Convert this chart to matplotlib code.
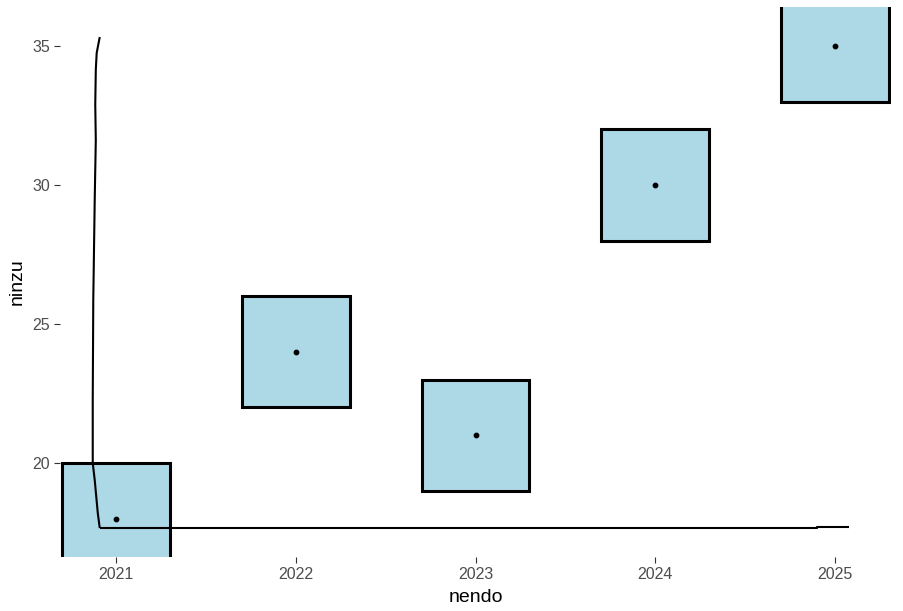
import matplotlib

matplotlib.use("Agg")
import matplotlib.pyplot as plt  # noqa: E402
from matplotlib.patches import Rectangle  # noqa: E402

# data
nendo = [2021, 2022, 2023, 2024, 2025]
ninzu = [18, 24, 21, 30, 35]
box_w = 0.6
box_h = 4.0

# hand-drawn axis lines (xkcd style)
yaxis_x = [2020.911, 2020.894, 2020.889, 2020.886, 2020.889, 2020.883,
           2020.875, 2020.872, 2020.872, 2020.883, 2020.900, 2020.911]
yaxis_y = [35.32, 34.75, 34.14, 32.88, 31.62, 29.46,
           25.86, 22.27, 20.00, 19.39, 18.20, 17.66]
xaxis_x = [2020.911, 2024.90, 2024.90, 2025.078]
xaxis_y = [17.66, 17.66, 17.70, 17.70]

xlim = (2020.69, 2025.31)
ylim = (16.62, 36.40)

plt.rcParams["font.family"] = ["Liberation Sans", "DejaVu Sans"]

fig = plt.figure(figsize=(9.04, 6.11), dpi=100)
ax = fig.add_axes([60 / 904, 1 - 557 / 611, 831 / 904, 550 / 611])

for x, y in zip(nendo, ninzu):
    ax.add_patch(Rectangle((x - box_w / 2, y - box_h / 2), box_w, box_h,
                           facecolor="#ADD8E6", edgecolor="black",
                           linewidth=2.2, zorder=2))
ax.scatter(nendo, ninzu, s=10, color="black", zorder=4)

ax.plot(yaxis_x, yaxis_y, color="black", lw=1.5, zorder=3,
        solid_capstyle="butt")
ax.plot(xaxis_x, xaxis_y, color="black", lw=1.5, zorder=3,
        solid_capstyle="butt")

ax.set_xlim(*xlim)
ax.set_ylim(*ylim)
ax.set_xticks(nendo)
ax.set_yticks([20, 25, 30, 35])
for s in ax.spines.values():
    s.set_visible(False)
ax.tick_params(axis="both", length=4, width=0.8, color="#333333",
               labelcolor="#4D4D4D", labelsize=11.5, pad=3)

ax.set_xlabel("nendo", fontsize=14, labelpad=5)
ax.set_ylabel("ninzu", fontsize=14, labelpad=5)

fig.savefig("out.png", dpi=100)
